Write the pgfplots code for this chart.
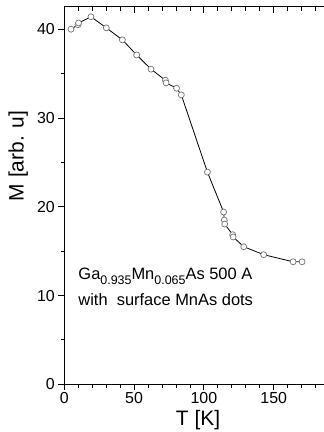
\documentclass[border=0pt]{standalone}
\usepackage{fontspec}
\setmainfont{Liberation Sans}
\usepackage{pgfplots}
\pgfplotsset{compat=1.18}
\newcommand{\sub}[1]{\raisebox{-5.5bp}{\fontsize{12.5}{12.5}\selectfont #1}}
\begin{document}
\begin{tikzpicture}
\useasboundingbox (-64.3bp,-47.7bp) rectangle (259.7bp,384.3bp);
\begin{axis}[
  at={(0,0)}, anchor=south west, scale only axis,
  width=259.7bp, height=377.3bp,
  xmin=0, xmax=186, ymin=0, ymax=42.5,
  axis x line*=bottom, axis y line*=left,
  tick align=outside,
  xtick={0,50,100,150}, minor xtick={10,20,30,40,60,70,80,90,110,120,130,140,160,170,180},
  ytick={0,10,20,30,40}, minor ytick={5,15,25,35},
  major tick length=6bp, minor tick length=3.5bp,
  every tick/.style={black, line width=0.9bp},
  axis line style={black, line width=1bp},
  /pgf/number format/assume math mode=true,
  tick label style={font=\fontsize{16}{16}\selectfont},
  xticklabel style={yshift=1bp},
  xlabel={T [K]}, ylabel={M [arb. u]},
  label style={font=\fontsize{21}{21}\selectfont},
  xlabel style={at={(axis description cs:0.515,0)}, anchor=center, yshift=-36bp},
  ylabel style={at={(axis description cs:-0.177,0.605)}, anchor=center},
  clip=false,
]
\addplot[black, line width=0.8bp, mark=*, mark size=3bp,
  mark options={fill=white, draw=black!55, line width=0.7bp}]
  coordinates {
  (4.8,40.0) (9.8,40.5) (10.2,40.7) (19.1,41.4) (30.1,40.15) (41.6,38.8)
  (51.8,37.1) (62.1,35.5) (72.4,34.25) (72.9,33.95) (80.4,33.35) (83.8,32.6)
  (102.5,23.9) (114.1,19.4) (114.6,18.5) (114.9,18.05) (120.6,16.85) (120.9,16.6)
  (128.5,15.5) (142.8,14.6) (163.9,13.8) (170.3,13.8)
  };
\node[anchor=base west, font=\fontsize{16.5}{16.5}\selectfont, inner sep=0pt]
  at (axis cs:10.0,11.86) {Ga\sub{0.935}Mn\sub{0.065}As 500 A};
\node[anchor=base west, font=\fontsize{16.5}{16.5}\selectfont, inner sep=0pt]
  at (axis cs:10.0,8.93) {with\ \ surface MnAs dots};
\end{axis}
\begin{axis}[
  at={(0,0)}, anchor=south west, scale only axis,
  width=259.7bp, height=377.3bp,
  xmin=0, xmax=186, ymin=0, ymax=42.5,
  axis x line*=top, axis y line=none,
  tick align=inside,
  xtick={0,50,100,150}, minor xtick={10,20,30,40,60,70,80,90,110,120,130,140,160,170,180},
  xticklabels={}, ytick=\empty,
  major tick length=6bp, minor tick length=4bp,
  every tick/.style={black, line width=0.9bp},
  axis line style={black, line width=1bp},
]
\end{axis}
\end{tikzpicture}
\end{document}
